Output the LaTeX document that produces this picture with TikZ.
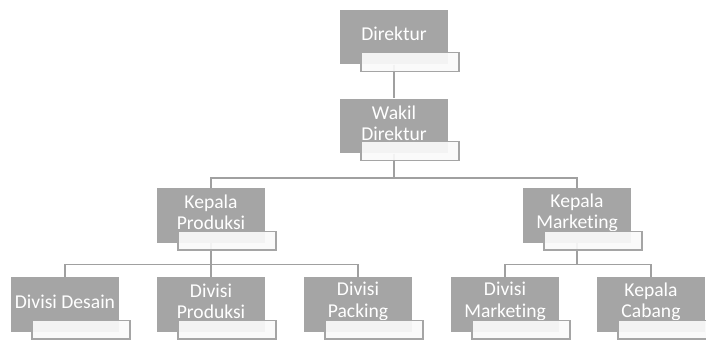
\documentclass[tikz,border=0pt]{standalone}
\usepackage{fontspec}
\setmainfont{Carlito}[Ligatures={NoCommon}]
\usepackage{tikz}
\usetikzlibrary{positioning, calc, backgrounds}
\usepackage{xcolor}
\definecolor{boxgray}{RGB}{165, 165, 165}
\definecolor{linegray}{RGB}{160, 160, 160}
\definecolor{tagwhite}{RGB}{250, 250, 250}

\begin{document}
\begin{tikzpicture}[
    x=0.75pt, y=-0.75pt,
    unit/.style={rectangle, fill=boxgray, minimum width=81pt, minimum height=41pt, inner sep=0pt},
    unittext/.style={text=white, align=center, inner sep=0pt, font=\fontsize{14.7}{16}\selectfont},
    tagbox/.style={rectangle, draw=boxgray, line width=0.9pt, fill=tagwhite, fill opacity=0.92, minimum width=73.5pt, minimum height=14pt, inner sep=0pt},
    link/.style={draw=linegray, line width=1.4pt}
]
    \clip (0,0) rectangle (706,342);

    % Units of the chart
    \foreach \n/\x/\y/\t in {
        dir/394/37/Direktur,
        wakil/394/126/{Wakil\\Direktur},
        kprod/211/215.5/{Kepala\\Produksi},
        kmark/577/215.5/{Kepala\\Marketing},
        desain/65/304.5/{Divisi Desain},
        produksi/211/304.5/{Divisi\\Produksi},
        packing/358/304.5/{Divisi\\Packing},
        marketing/505/304.5/{Divisi\\Marketing},
        cabang/651/304.5/{Kepala\\Cabang}} {
        \node[unit] (\n) at (\x,\y) {};
        \node[unittext] (\n-text) at ([yshift=2.2pt]\n) {\t};
        \node[tagbox] (\n-tag) at ($(\n.south)+(16,-2.5)$) {};
    }

    % Connectors
    \begin{scope}[on background layer]
        \draw[link] (dir) -- (wakil);
        \draw[link] (wakil) -- ++(0,52) -| (kprod);
        \draw[link] (wakil) -- ++(0,52) -| (kmark);
        \draw[link] (kprod) -- ++(0,49) -| (desain);
        \draw[link] (kprod) -- (produksi);
        \draw[link] (kprod) -- ++(0,49) -| (packing);
        \draw[link] (kmark) -- ++(0,49) -| (marketing);
        \draw[link] (kmark) -- ++(0,49) -| (cabang);
    \end{scope}
\end{tikzpicture}
\end{document}
